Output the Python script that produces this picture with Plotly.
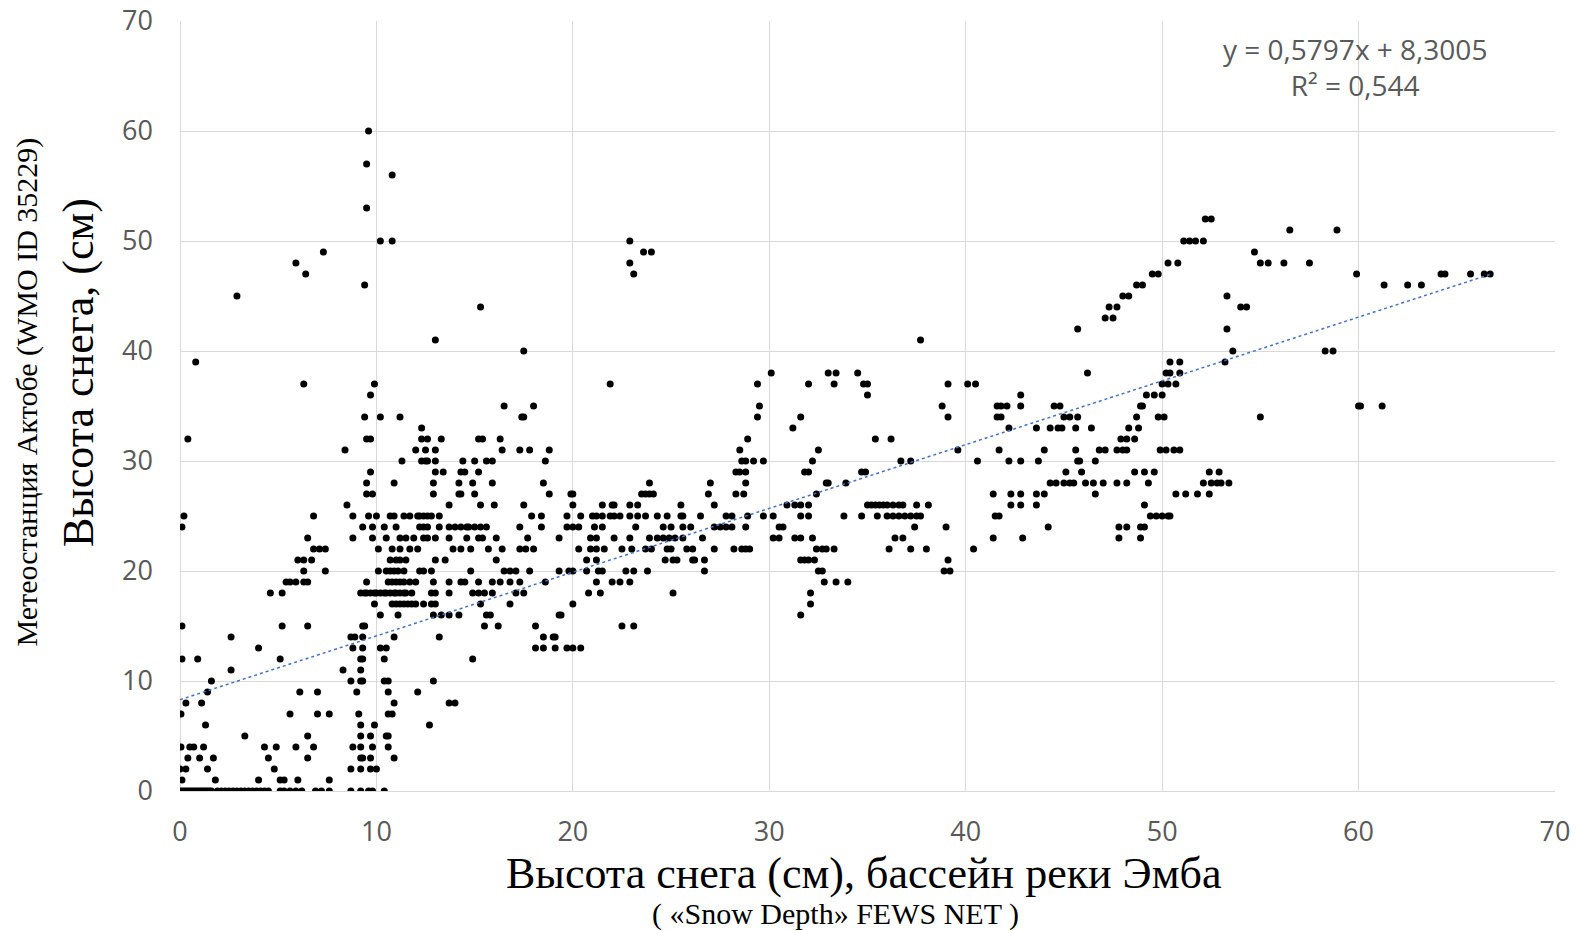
import plotly.graph_objects as go

# station snow depth levels (cm), one row of FEWS NET values per level
station_levels = [0, 1, 2, 3, 4, 5, 6, 7, 8, 9, 10, 11, 12, 13, 14, 15, 16, 17, 18, 19,
                  20, 21, 22, 23, 24, 25, 26, 27, 28, 29, 30, 31, 32, 33, 34, 35, 36, 37,
                  38, 39, 40, 41, 42, 43, 44, 45, 46, 47, 48, 49, 50, 51, 52, 53, 56, 57, 60]

fews_by_level = [
    [0.0, 0.1, 0.2, 0.3, 0.4, 0.5, 0.6, 0.7, 0.8, 0.9, 1.0, 1.1, 1.2, 1.3, 1.4, 1.5, 1.6, 1.9, 2.1,
     2.3, 2.5, 2.7, 2.9, 3.1, 3.3, 3.5, 3.7, 3.9, 4.1, 4.3, 4.5, 5.1, 5.3, 5.6, 5.9, 6.2, 6.9, 7.2,
     7.6, 8.7, 9.2, 9.6, 9.8, 10.4],
    [0.1, 1.8, 4.0, 5.1, 5.3, 6.0, 7.6],
    [0.0, 0.3, 1.4, 4.8, 8.7, 9.2, 9.7, 10.0],
    [0.4, 1.0, 1.7, 4.5, 6.5, 9.2, 9.3, 9.7, 10.9],
    [0.05, 0.5, 0.7, 1.2, 4.3, 4.9, 5.9, 6.8, 8.8, 9.2, 9.8, 10.6],
    [3.3, 6.5, 9.2, 9.7, 10.5, 10.6],
    [1.3, 9.2, 9.9, 12.7],
    [0.05, 5.6, 7.0, 7.6, 9.1, 10.6, 10.8],
    [0.3, 1.1, 10.9, 13.7, 14.0],
    [1.4, 6.1, 7.0, 9.0, 10.6, 12.1],
    [1.6, 8.7, 9.2, 9.3, 10.4, 10.6, 12.9],
    [2.6, 8.3, 9.2],
    [0.1, 0.9, 5.1, 9.2, 9.3, 10.4, 14.9],
    [4.0, 8.8, 9.3, 10.2, 10.5, 18.1, 18.5, 19.1, 19.7, 20.0, 20.4],
    [2.6, 8.7, 8.9, 9.3, 10.9, 13.2, 18.5, 19.0, 19.1],
    [0.1, 5.2, 6.5, 9.3, 9.4, 15.5, 16.2, 18.1, 22.5, 23.1],
    [10.2, 11.1, 12.9, 13.3, 13.7, 14.2, 15.6, 15.8, 19.3, 19.4, 31.6],
    [9.9, 10.8, 11.0, 11.2, 11.4, 11.6, 11.8, 12.0, 12.4, 12.8, 13.0, 15.3, 16.8, 20.0, 32.1],
    [4.6, 5.2, 9.2, 9.4, 9.5, 9.7, 9.9, 10.0, 10.2, 10.4, 10.5, 10.7, 10.9, 11.0, 11.2, 11.4,
     11.5, 11.8, 12.8, 13.0, 13.7, 14.9, 15.2, 15.5, 15.9, 17.1, 17.5, 20.8, 21.4, 25.1, 32.1],
    [5.4, 5.6, 5.9, 6.3, 6.5, 9.5, 10.6, 10.8, 11.0, 11.2, 11.4, 11.7, 12.0, 12.9, 13.7, 14.3,
     14.5, 15.2, 15.9, 16.3, 16.8, 17.3, 18.6, 21.2, 22.0, 22.4, 22.9, 32.8, 33.4, 34.0],
    [6.3, 7.4, 10.1, 10.5, 10.7, 10.9, 11.1, 11.4, 12.2, 12.4, 12.8, 14.8, 16.5, 16.8, 17.1, 17.8,
     19.3, 19.8, 20.0, 20.7, 21.3, 21.5, 22.7, 23.1, 23.8, 26.7, 32.5, 32.7, 38.9, 39.2],
    [6.0, 6.3, 6.7, 10.7, 11.0, 11.2, 11.5, 13.0, 13.5, 16.1, 20.7, 21.2, 24.7, 25.1, 25.3, 26.1,
     26.2, 26.7, 31.6, 31.8, 32.0, 32.3, 39.1],
    [6.8, 7.1, 7.4, 10.1, 10.8, 11.2, 11.7, 12.1, 13.9, 14.3, 14.8, 15.7, 16.4, 17.3, 17.6, 18.0,
     20.3, 20.9, 21.2, 21.6, 22.5, 23.0, 23.7, 24.0, 24.8, 25.0, 25.8, 26.1, 27.2, 28.2, 28.6,
     28.8, 29.0, 32.4, 32.7, 32.9, 33.3, 36.1, 37.2, 38.0, 40.4],
    [6.5, 8.8, 9.8, 10.5, 11.2, 11.5, 11.9, 12.4, 12.6, 13.0, 13.7, 14.6, 15.2, 15.4, 16.1, 17.7,
     19.3, 20.9, 21.2, 22.1, 22.9, 23.9, 24.3, 24.6, 24.9, 25.2, 25.6, 26.6, 30.2, 30.5, 31.3,
     31.6, 32.2, 36.4, 36.8, 41.4, 42.9, 47.8, 48.9],
    [0.1, 9.3, 9.8, 10.4, 11.0, 12.2, 12.4, 12.6, 13.2, 13.7, 14.0, 14.3, 14.6, 14.7, 15.0, 15.3,
     15.6, 17.3, 18.4, 19.7, 20.0, 20.3, 21.1, 21.5, 23.2, 24.6, 25.0, 25.6, 26.0, 27.2, 27.5,
     27.8, 28.1, 28.8, 30.5, 30.7, 37.4, 39.0, 44.2, 47.8, 48.2, 48.9, 49.1],
    [0.2, 6.8, 8.8, 9.6, 10.0, 10.7, 10.9, 11.4, 11.7, 12.1, 12.2, 12.4, 12.6, 12.8, 13.2, 17.9,
     18.4, 19.7, 20.4, 21.0, 21.2, 21.5, 21.9, 22.1, 22.4, 22.9, 23.3, 23.7, 24.3, 24.8, 25.5,
     25.6, 26.5, 27.8, 28.1, 28.9, 29.7, 30.2, 31.6, 32.0, 33.8, 34.7, 35.5, 36.0, 36.3, 36.6,
     36.9, 37.2, 37.5, 37.7, 41.5, 41.7, 49.4, 49.7, 50.0, 50.3, 50.4],
    [8.5, 13.7, 15.3, 16.0, 17.5, 20.0, 21.5, 22.0, 22.1, 22.9, 23.3, 25.5, 27.2, 30.9, 31.3,
     31.6, 32.0, 35.0, 35.2, 35.4, 35.6, 35.8, 36.0, 36.3, 36.6, 36.8, 37.5, 38.1, 42.3, 42.8,
     43.6, 49.1],
    [9.5, 9.8, 12.9, 14.2, 14.3, 15.0, 18.8, 19.9, 20.0, 23.5, 23.7, 23.9, 24.1, 26.9, 28.3,
     28.7, 32.4, 41.4, 42.3, 42.8, 43.6, 44.0, 46.6, 50.7, 51.2, 51.8, 52.4],
    [9.5, 10.9, 12.9, 14.2, 14.9, 15.9, 18.5, 23.9, 27.0, 28.8, 32.9, 33.0, 33.9, 44.3, 44.6,
     45.0, 45.3, 45.5, 46.1, 46.5, 47.0, 47.7, 48.2, 49.3, 52.1, 52.5, 52.8, 53.0, 53.4],
    [9.7, 13.0, 13.4, 14.3, 14.5, 15.2, 28.3, 28.5, 28.8, 31.8, 32.0, 34.7, 34.9, 45.1, 45.9,
     48.6, 49.1, 49.6, 52.4, 52.9],
    [11.3, 12.3, 12.5, 12.6, 13.0, 14.4, 15.0, 15.6, 15.9, 18.6, 28.6, 28.8, 29.2, 29.7, 32.2,
     36.7, 37.2, 40.6, 42.2, 42.8, 43.7, 45.7, 45.8, 46.6],
    [8.4, 12.0, 12.5, 13.0, 16.4, 17.3, 17.8, 18.8, 28.5, 32.5, 39.6, 41.7, 44.0, 45.6, 46.8,
     47.1, 47.7, 48.0, 48.2, 49.9, 50.2, 50.6, 50.9],
    [0.4, 9.5, 9.7, 12.3, 12.6, 13.3, 15.2, 15.4, 16.3, 28.9, 35.4, 36.2, 47.9, 48.2, 48.6],
    [12.3, 31.2, 42.2, 43.6, 44.3, 44.7, 44.9, 45.6, 46.4, 48.3, 48.8],
    [9.4, 10.2, 11.2, 17.4, 17.5, 29.4, 31.6, 39.1, 41.6, 41.8, 45.0, 45.3, 45.7, 48.7, 49.8,
     50.1, 55.0],
    [16.5, 18.0, 29.5, 38.8, 41.6, 41.8, 42.1, 42.8, 44.5, 44.8, 48.9, 49.0, 60.0, 60.1, 61.2],
    [9.7, 35.0, 42.8, 49.2, 49.6, 50.0],
    [6.3, 9.9, 21.9, 29.4, 32.0, 33.3, 34.8, 35.0, 39.1, 40.1, 40.5, 50.0, 50.3, 50.7],
    [30.1, 33.0, 33.4, 34.5, 46.2, 50.2, 50.4, 50.9],
    [0.8, 50.4, 50.9, 53.2],
    [17.5, 53.6, 58.3, 58.7],
    [13.0, 37.7],
    [45.7, 53.3],
    [47.1, 47.5],
    [15.3, 47.3, 47.7, 54.0, 54.3],
    [2.9, 48.0, 48.3, 53.3],
    [9.4, 48.7, 49.0, 61.3, 62.5, 63.2],
    [6.4, 23.1, 49.5, 49.8, 59.9, 64.2, 64.4, 65.7, 66.4, 66.7],
    [5.9, 22.9, 50.3, 50.8, 55.0, 55.4, 56.2, 57.5],
    [7.3, 23.6, 24.0, 54.7],
    [10.2, 10.8, 22.9, 51.1, 51.4, 51.7, 52.1],
    [56.5, 58.9],
    [52.2, 52.5],
    [9.5],
    [10.8],
    [9.5],
    [9.6],
]

# linear trend shown on the chart
trend_slope = 0.5797
trend_intercept = 8.3005
trend_r2 = 0.544

x_vals = []
y_vals = []
for level, xs in zip(station_levels, fews_by_level):
    for xv in xs:
        x_vals.append(xv)
        y_vals.append(level)

x_line = [0, max(x_vals)]
y_line = [trend_slope * v + trend_intercept for v in x_line]

fig = go.Figure()
fig.add_trace(go.Scatter(
    x=x_vals, y=y_vals, mode='markers',
    marker=dict(color='black', size=7),
    showlegend=False
))
fig.add_trace(go.Scatter(
    x=x_line, y=y_line, mode='lines',
    line=dict(color='#4472C4', width=1.5, dash='dot'),
    showlegend=False
))

grid = '#d9d9d9'
tick_font = dict(family='Open Sans', size=27, color='#595959')
fig.update_xaxes(range=[0, 70.001], dtick=10, showgrid=True, gridcolor=grid, gridwidth=1,
                 zeroline=True, zerolinecolor=grid, zerolinewidth=1, showline=False,
                 ticks='', ticklabelstandoff=22, ticklabeloverflow='allow',
                 automargin=False, tickfont=tick_font)
fig.update_yaxes(range=[0, 70.001], dtick=10, showgrid=True, gridcolor=grid, gridwidth=1,
                 zeroline=True, zerolinecolor=grid, zerolinewidth=1, showline=False,
                 ticks='', ticklabelstandoff=26, ticklabeloverflow='allow',
                 automargin=False, tickfont=tick_font)

serif = 'Liberation Serif'
fig.add_annotation(x=0.497, y=-0.1065, xref='paper', yref='paper', showarrow=False,
                   xanchor='center', yanchor='middle',
                   text='Высота снега (см), бассейн реки Эмба',
                   font=dict(family=serif, size=44, color='black'))
fig.add_annotation(x=0.477, y=-0.160, xref='paper', yref='paper', showarrow=False,
                   xanchor='center', yanchor='middle',
                   text='( «Snow Depth» FEWS NET )',
                   font=dict(family=serif, size=30, color='black'))
fig.add_annotation(x=-0.0742, y=0.544, xref='paper', yref='paper', showarrow=False,
                   xanchor='center', yanchor='middle',
                   textangle=-90, text='Высота снега, (см)',
                   font=dict(family=serif, size=44, color='black'))
fig.add_annotation(x=-0.111, y=0.518, xref='paper', yref='paper', showarrow=False,
                   xanchor='center', yanchor='middle',
                   textangle=-90, text='Метеостанция Актобе (WMO ID 35229)',
                   font=dict(family=serif, size=30, color='black'))
fig.add_annotation(x=59.8, y=65.8, showarrow=False, align='center',
                   text='y = 0,5797x + 8,3005<br>R² = 0,544',
                   font=dict(family='Open Sans', size=28, color='#595959'))

fig.update_layout(
    width=1578, height=931,
    margin=dict(l=180, r=23, t=21, b=140),
    plot_bgcolor='white', paper_bgcolor='white'
)

# drop the default body margin so the figure fills the window exactly
fig.write_html("out.html", config={'displayModeBar': False},
               post_script="document.body.style.margin='0';document.body.style.overflow='hidden';")
